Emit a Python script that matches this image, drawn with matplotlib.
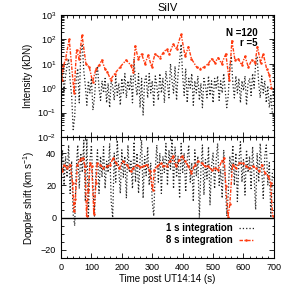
import numpy as np
import matplotlib
matplotlib.use("Agg")
import matplotlib.pyplot as plt
from matplotlib.ticker import MultipleLocator, LogLocator, NullFormatter

# ---------------- data ----------------
t_1s = np.arange(0, 700, 5)
logI_1s = [0.2, 0.6, -0.1, 0.5, 0.9, 1.2, 0.3, -0.3, -1.7, -1.2,
           0.4, 0.8, -0.6, 1.5, 1.8, 0.7, 0.1, -0.7, 0.3, -0.2,
           0.4, -0.9, -0.4, 0.5, 0.9, 0.0, -0.5, 0.3, -0.2, 0.4,
           -0.6, 0.2, -0.8, 0.3, 0.1, -0.5, 0.5, -0.3, 0.2, -0.7,
           0.4, -0.2, 0.6, -0.4, 0.3, -0.1, 0.5, -0.6, 1.2, 0.2,
           -0.3, 0.6, -0.8, 0.4, -1.1, 0.3, 0.5, -0.4, 0.6, -0.2,
           0.3, -0.7, 0.5, 0.1, -0.5, 0.6, -0.2, 0.4, -0.6, 0.7,
           0.2, -0.4, 1.0, 0.3, -0.2, 0.9, -0.5, 0.6, 1.1, 1.8,
           0.5, -0.3, 0.8, -0.6, 0.4, 0.0, 0.6, -0.7, 0.3, -0.2,
           0.5, -0.5, 0.2, -0.8, 0.4, 0.1, -0.4, 0.5, -0.3, 0.3,
           -0.6, 0.4, 0.0, 0.5, -0.5, 0.3, -0.2, 0.6, -0.1, -0.8,
           -0.3, 0.9, 1.3, 0.2, -0.4, 0.5, -0.2, 0.4, -0.6, 0.3,
           -0.1, 0.5, -0.7, 0.2, 0.4, -0.3, 0.6, 0.0, 1.0, 1.3,
           0.2, -0.4, 0.5, -0.2, 0.3, -0.6, 0.1, -0.8, -0.3, -1.0]
vel_1s = [30, 42, 20, 38, 25, 45, 15, 35, 2, -5,
          30, 45, 18, 40, 28, 48, 10, 50, 0, 35,
          45, 20, 1, 30, 42, 15, 38, 25, 44, 18,
          35, 28, 46, 10, 0, 40, 22, 48, 30, 15,
          42, 25, 38, 12, 45, 28, 35, 18, 47, 22,
          40, 15, 36, 48, 12, 38, 26, 44, 20, 34,
          10, 1, 30, 45, 22, 40, 15, 38, 28, 46,
          20, 42, 30, 50, 18, 44, 25, 38, 12, 46,
          28, 40, 16, 36, 45, 22, 34, 10, 42, 26,
          38, 0, 30, 45, 14, 36, 24, 44, 8, 32,
          40, 18, 35, 46, 20, 30, 12, 42, 25, 1,
          15, 38, 28, 45, 20, 40, 10, 35, 47, 22,
          36, 14, 42, 28, 38, 18, 44, 26, 5, 40,
          22, 46, 30, 12, 38, 45, 20, 34, 0, 28]

t_8s_I = [2, 8, 15, 27, 43, 51, 60, 69, 82, 93, 104, 115, 126, 134, 145, 152,
          163, 177, 194, 214, 229, 238, 244, 254, 265, 276, 287, 298, 309,
          325, 336, 347, 356, 369, 380, 395, 408, 419, 429, 446, 457, 470,
          484, 495, 506, 517, 528, 542, 553, 562, 572, 583, 594, 605, 616,
          627, 638, 646, 656, 665, 676, 685, 692]
logI_8s = [0.33, 0.9, 1.2, 2.0, -0.2, 1.56, 1.2, 2.18, 1.0, 0.86, 0.26, 0.8,
           0.95, 1.15, 0.78, 0.68, 0.35, 0.6, 0.86, 1.15, 0.95, 0.68, 1.73,
           1.2, 1.4, 1.0, 1.35, 0.86, 1.4, 1.25, 1.45, 1.6, 1.4, 1.8, 1.6,
           2.22, 1.3, 1.7, 1.2, 0.86, 0.8, 0.86, 1.0, 1.2, 1.05, 1.25, 1.0,
           1.4, 0.33, 1.94, 1.15, 1.2, 0.95, 1.3, 0.86, 1.15, 1.05, 1.7,
           1.05, 1.4, 0.8, 0.55, 0.0]

t_8s_v = [2, 10, 19, 30, 38, 43, 47, 54, 62, 71, 79, 84, 90, 95, 101, 108,
          115, 119, 128, 139, 150, 161, 172, 181, 192, 203, 216, 229, 238,
          249, 260, 271, 282, 292, 301, 307, 317, 328, 336, 347, 358, 367,
          378, 389, 398, 408, 419, 429, 440, 451, 462, 473, 484, 495, 506,
          517, 528, 536, 542, 549, 555, 564, 575, 586, 597, 608, 619, 630,
          641, 652, 660, 671, 682, 689, 696]
vel_8s = [28.7, 32.8, 30.8, 32.8, 21.5, 4.0, 11.3, 32.8, 35.9, 37.0, 32.0,
          1.0, 17.4, 33.8, 31.8, 2.0, 21.5, 33.8, 32.8, 30.8, 31.8, 32.8,
          37.0, 33.8, 30.8, 34.9, 32.8, 28.7, 30.8, 32.8, 31.4, 31.8, 32.8,
          28.7, 17.4, 29.7, 31.8, 33.8, 31.8, 32.2, 34.9, 38.0, 31.8, 35.9,
          38.0, 34.9, 31.8, 27.7, 32.8, 34.9, 33.8, 31.8, 31.8, 29.7, 30.8,
          29.7, 34.9, 37.0, 19.5, 0.6, 8.2, 32.8, 30.8, 33.8, 33.8, 31.8,
          30.8, 31.8, 30.8, 28.7, 32.8, 27.7, 25.6, 21.5, 1.0]

xticks = [0, 100, 200, 300, 400, 500, 600, 700]

# ---------------- plot ----------------
plt.rcParams['font.family'] = ['Liberation Sans', 'DejaVu Sans']
plt.rcParams['mathtext.fontset'] = 'custom'
plt.rcParams['mathtext.rm'] = 'Liberation Sans'

fig = plt.figure(figsize=(3.05, 3.05), dpi=100)
ax1 = fig.add_axes([0.2, 0.551, 0.698, 0.400])
ax2 = fig.add_axes([0.2, 0.154, 0.698, 0.397])

blk = dict(color='#222222', ls=':', lw=0.9)
red = dict(color='#ff3b10', ls=(0, (2.5, 1, 1, 1)), lw=1.0, marker='.', ms=1.6)

ax1.plot(t_1s, 10 ** np.array(logI_1s), **blk)
ax1.plot(t_8s_I, 10 ** np.array(logI_8s), **red)
ax1.set_yscale('log')
ax1.set_ylim(1e-2, 1e3)
ax1.set_xlim(0, 700)
ax1.set_ylabel('Intensity (kDN)', fontsize=7, labelpad=3)
ax1.set_title('SiIV', fontsize=8, pad=3)
ax1.text(0.925, 0.83, 'N =120', transform=ax1.transAxes, fontsize=7,
         fontweight='bold', ha='right')
ax1.text(0.925, 0.745, 'r =5', transform=ax1.transAxes, fontsize=7,
         fontweight='bold', ha='right')
ax1.set_xticks(xticks)
ax1.tick_params(labelbottom=False)
ax1.yaxis.set_major_locator(LogLocator(base=10, numticks=10))
ax1.yaxis.set_minor_locator(LogLocator(base=10, subs=np.arange(2, 10), numticks=20))
ax1.yaxis.set_minor_formatter(NullFormatter())

ax2.plot(t_1s, vel_1s, label='1 s integration', **blk)
ax2.plot(t_8s_v, vel_8s, label='8 s integration', **red)
ax2.axhline(0, color='black', lw=1.0)
ax2.set_xlim(0, 700)
ax2.set_ylim(-25, 50)
ax2.set_yticks([-20, 0, 20, 40])
ax2.set_xticks(xticks)
ax2.yaxis.set_minor_locator(MultipleLocator(5))
ax2.set_ylabel('Doppler shift (km s$^{-1}$)', fontsize=7, labelpad=3)
ax2.set_xlabel('Time post UT14:14 (s)', fontsize=7, labelpad=1.5)
leg = ax2.legend(loc='lower right', bbox_to_anchor=(0.935, 0.06), frameon=False,
                 markerfirst=False, fontsize=7, handlelength=1.6,
                 labelspacing=0.15, borderpad=0.1, handletextpad=0.6)
for txt in leg.get_texts():
    txt.set_fontweight('bold')

for ax in (ax1, ax2):
    ax.xaxis.set_minor_locator(MultipleLocator(20))
    ax.tick_params(which='both', direction='in', top=True, right=True,
                   labelsize=6.5, width=0.6, pad=3.5)
    ax.tick_params(which='major', length=3.5)
    ax.tick_params(which='minor', length=1.8)
    for s in ax.spines.values():
        s.set_linewidth(0.8)

fig.savefig('out.png', dpi=100)
